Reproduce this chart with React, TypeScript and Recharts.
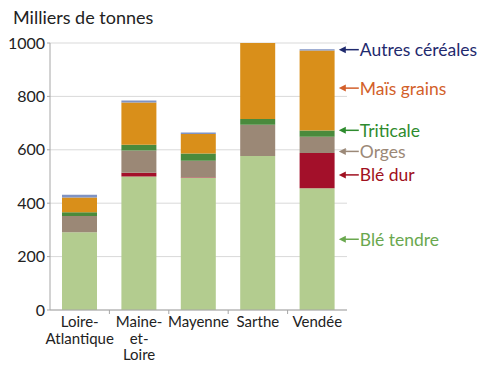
import React from 'react';
import { BarChart, Bar, XAxis, YAxis, CartesianGrid, ReferenceDot } from 'recharts';

const categories = ['Loire-Atlantique', 'Maine-et-Loire', 'Mayenne', 'Sarthe', 'Vendée'];
const bleTendre = [291, 500, 495, 577, 456];
const bleDur = [0, 14, 2, 0, 132];
const orges = [61, 83, 62, 117, 61];
const triticale = [14, 22, 27, 21, 23];
const maisGrains = [55, 158, 73, 285, 300];
const autresCereales = [11, 8, 6, 0, 5];
const yTicks = [0, 200, 400, 600, 800, 1000];

// series: key, name, bar colour, label colour, where the label arrow points (in tonnes)
const series = [
  { key: 'bleTendre', name: 'Blé tendre', fill: '#b3cc8f', text: '#6aa84f', labelAt: 265 },
  { key: 'bleDur', name: 'Blé dur', fill: '#a3102a', text: '#a01020', labelAt: 506 },
  { key: 'orges', name: 'Orges', fill: '#9b8876', text: '#9b8877', labelAt: 594 },
  { key: 'triticale', name: 'Triticale', fill: '#4a8a3c', text: '#2e8b2e', labelAt: 673 },
  { key: 'maisGrains', name: 'Maïs grains', fill: '#d98f1a', text: '#d35f2a', labelAt: 831 },
  { key: 'autresCereales', name: 'Autres céréales', fill: '#7f93c4', text: '#1f2a6e', labelAt: 975 },
];

const values: Record<string, number[]> = { bleTendre, bleDur, orges, triticale, maisGrains, autresCereales };

const data = categories.map((name, i) => {
  const row: Record<string, string | number> = { name };
  series.forEach((s) => { row[s.key] = values[s.key][i]; });
  return row;
});

const BAR = 35;
const HALF_BAND = 297 / 5 / 2;

const CategoryTick = (props: any) => {
  const { x, y, payload, index } = props;
  const lines: string[] = String(payload.value).split(/(?<=-)/);
  return (
    <g>
      {index < categories.length - 1 && (
        <line x1={x + HALF_BAND} y1={y - 8} x2={x + HALF_BAND} y2={y - 4} stroke="#a6a6a6" />
      )}
      <text x={x} y={y + 9} textAnchor="middle" fontSize={15} fill="#222">
        {lines.map((l, i) => (
          <tspan key={i} x={x} dy={i === 0 ? 0 : 16.5}>{l}</tspan>
        ))}
      </text>
    </g>
  );
};

const arrowLabel = (text: string, color: string) => (props: any) => {
  const { cx, cy } = props;
  const x0 = cx + BAR / 2 + 4;
  return (
    <g>
      <line x1={x0 + 4} y1={cy} x2={x0 + 20} y2={cy} stroke={color} strokeWidth={1.5} />
      <path d={`M${x0},${cy} l7,-3.5 l0,7 z`} fill={color} />
      <text x={x0 + 21} y={cy} dominantBaseline="central" fontSize={17.5} fill={color}>{text}</text>
    </g>
  );
};

export default function App() {
  return (
    <div style={{ position: 'absolute', left: 0, top: 0, width: 500, height: 380, background: '#fff', fontFamily: 'Lato, sans-serif' }}>
      <div style={{ position: 'absolute', left: 13, top: 6, fontSize: 18, color: '#222' }}>Milliers de tonnes</div>
      <BarChart width={500} height={380} data={data} margin={{ top: 43, right: 153, left: 0, bottom: 0 }}>
        <CartesianGrid vertical={false} stroke="#d9d9d9" />
        <XAxis
          dataKey="name"
          interval={0}
          height={70}
          stroke="#a6a6a6"
          tickLine={false}
          tick={<CategoryTick />}
        />
        <YAxis
          width={50}
          domain={[0, 1000]}
          ticks={yTicks}
          stroke="#a6a6a6"
          tickSize={3}
          tick={{ fontSize: 16, fill: '#222' }}
        />
        {series.map((s) => (
          <Bar key={s.key} dataKey={s.key} name={s.name} stackId="a" fill={s.fill} barSize={BAR} isAnimationActive={false} />
        ))}
        {series.map((s) => (
          <ReferenceDot
            key={'lbl-' + s.key}
            x="Vendée"
            y={s.labelAt}
            r={0}
            ifOverflow="visible"
            shape={arrowLabel(s.name, s.text)}
          />
        ))}
      </BarChart>
    </div>
  );
}
